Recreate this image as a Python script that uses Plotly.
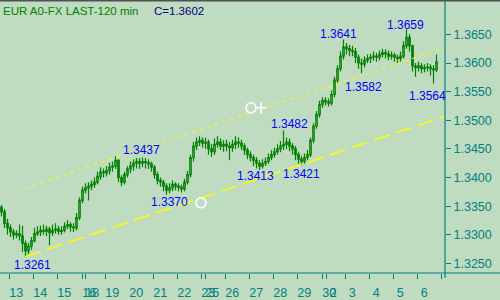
import plotly.graph_objects as go

# ---------------- data ----------------
opens = [1.3348,1.3340,1.3320,1.3312,1.3305,1.3300,1.3302,1.3298,1.3285,1.3272,
 1.3280,1.3290,1.3302,1.3305,1.3308,1.3306,1.3310,1.3304,1.3308,1.3310,
 1.3306,1.3308,1.3315,1.3318,1.3314,1.3312,1.3330,1.3360,1.3378,1.3382,
 1.3385,1.3388,1.3392,1.3402,1.3410,1.3408,1.3412,1.3418,1.3420,1.3430,
 1.3400,1.3392,1.3405,1.3415,1.3420,1.3425,1.3428,1.3425,1.3428,1.3426,
 1.3424,1.3418,1.3405,1.3395,1.3392,1.3385,1.3378,1.3382,1.3388,1.3385,
 1.3383,1.3380,1.3392,1.3405,1.3435,1.3455,1.3462,1.3465,1.3460,1.3462,
 1.3450,1.3445,1.3458,1.3462,1.3455,1.3458,1.3455,1.3452,1.3458,1.3462,
 1.3460,1.3455,1.3448,1.3440,1.3435,1.3430,1.3425,1.3420,1.3425,1.3428,
 1.3435,1.3440,1.3445,1.3450,1.3455,1.3458,1.3462,1.3455,1.3450,1.3440,
 1.3432,1.3428,1.3435,1.3440,1.3465,1.3490,1.3510,1.3528,1.3535,1.3532,
 1.3530,1.3545,1.3570,1.3590,1.3612,1.3628,1.3625,1.3622,1.3620,1.3610,
 1.3600,1.3598,1.3605,1.3608,1.3610,1.3612,1.3610,1.3615,1.3618,1.3616,
 1.3612,1.3614,1.3610,1.3608,1.3612,1.3630,1.3645,1.3630,1.3595,1.3592,
 1.3595,1.3590,1.3592,1.3593,1.3590,1.3588]
closes = [1.3340,1.3320,1.3312,1.3305,1.3300,1.3302,1.3298,1.3285,1.3272,1.3280,
 1.3290,1.3302,1.3305,1.3308,1.3306,1.3310,1.3304,1.3308,1.3310,1.3306,
 1.3308,1.3315,1.3318,1.3314,1.3312,1.3330,1.3360,1.3378,1.3382,1.3385,
 1.3388,1.3392,1.3402,1.3410,1.3408,1.3412,1.3418,1.3420,1.3430,1.3400,
 1.3392,1.3405,1.3415,1.3420,1.3425,1.3428,1.3425,1.3428,1.3426,1.3424,
 1.3418,1.3405,1.3395,1.3392,1.3385,1.3378,1.3382,1.3388,1.3385,1.3383,
 1.3380,1.3392,1.3405,1.3435,1.3455,1.3462,1.3465,1.3460,1.3462,1.3450,
 1.3445,1.3458,1.3462,1.3455,1.3458,1.3455,1.3452,1.3458,1.3462,1.3460,
 1.3455,1.3448,1.3440,1.3435,1.3430,1.3425,1.3420,1.3425,1.3428,1.3435,
 1.3440,1.3445,1.3450,1.3455,1.3458,1.3462,1.3455,1.3450,1.3440,1.3432,
 1.3428,1.3435,1.3440,1.3465,1.3490,1.3510,1.3528,1.3535,1.3532,1.3530,
 1.3545,1.3570,1.3590,1.3612,1.3628,1.3625,1.3622,1.3620,1.3610,1.3600,
 1.3598,1.3605,1.3608,1.3610,1.3612,1.3610,1.3615,1.3618,1.3616,1.3612,
 1.3614,1.3610,1.3608,1.3612,1.3630,1.3645,1.3630,1.3595,1.3592,1.3595,
 1.3590,1.3592,1.3593,1.3590,1.3588,1.3602]
highs = [1.3352,1.3345,1.3328,1.3318,1.3310,1.3308,1.3318,1.3316,1.3290,1.3286,
 1.3296,1.3312,1.3315,1.3316,1.3318,1.3316,1.3314,1.3318,1.3320,1.3316,
 1.3315,1.3322,1.3326,1.3322,1.3320,1.3338,1.3365,1.3384,1.3390,1.3392,
 1.3395,1.3400,1.3410,1.3418,1.3416,1.3420,1.3426,1.3428,1.3437,1.3432,
 1.3404,1.3410,1.3420,1.3428,1.3432,1.3434,1.3434,1.3435,1.3434,1.3432,
 1.3428,1.3422,1.3410,1.3400,1.3396,1.3390,1.3390,1.3395,1.3392,1.3390,
 1.3388,1.3398,1.3412,1.3440,1.3462,1.3470,1.3472,1.3470,1.3470,1.3466,
 1.3458,1.3468,1.3472,1.3468,1.3465,1.3466,1.3462,1.3466,1.3472,1.3470,
 1.3466,1.3460,1.3452,1.3446,1.3440,1.3436,1.3430,1.3432,1.3435,1.3442,
 1.3448,1.3452,1.3458,1.3464,1.3482,1.3470,1.3468,1.3460,1.3455,1.3445,
 1.3438,1.3442,1.3448,1.3470,1.3495,1.3516,1.3534,1.3540,1.3540,1.3538,
 1.3552,1.3576,1.3596,1.3620,1.3641,1.3635,1.3632,1.3630,1.3626,1.3615,
 1.3608,1.3612,1.3615,1.3616,1.3620,1.3618,1.3622,1.3625,1.3624,1.3622,
 1.3620,1.3618,1.3615,1.3620,1.3638,1.3659,1.3650,1.3632,1.3600,1.3602,
 1.3600,1.3598,1.3600,1.3598,1.3596,1.3615]
lows = [1.3332,1.3312,1.3300,1.3296,1.3292,1.3294,1.3290,1.3270,1.3261,1.3266,
 1.3274,1.3286,1.3298,1.3298,1.3300,1.3298,1.3282,1.3298,1.3302,1.3300,
 1.3300,1.3304,1.3310,1.3306,1.3305,1.3308,1.3326,1.3355,1.3372,1.3360,
 1.3378,1.3382,1.3388,1.3396,1.3400,1.3402,1.3405,1.3410,1.3415,1.3392,
 1.3385,1.3388,1.3400,1.3408,1.3412,1.3416,1.3415,1.3418,1.3416,1.3415,
 1.3410,1.3398,1.3388,1.3384,1.3376,1.3370,1.3372,1.3376,1.3378,1.3376,
 1.3374,1.3376,1.3388,1.3400,1.3428,1.3448,1.3455,1.3452,1.3450,1.3440,
 1.3436,1.3440,1.3452,1.3448,1.3445,1.3446,1.3430,1.3445,1.3450,1.3452,
 1.3448,1.3440,1.3432,1.3428,1.3420,1.3416,1.3413,1.3416,1.3420,1.3424,
 1.3430,1.3435,1.3440,1.3444,1.3448,1.3450,1.3446,1.3440,1.3430,1.3424,
 1.3421,1.3424,1.3430,1.3436,1.3460,1.3485,1.3505,1.3522,1.3526,1.3524,
 1.3526,1.3540,1.3565,1.3585,1.3606,1.3615,1.3612,1.3612,1.3600,1.3590,
 1.3582,1.3592,1.3600,1.3600,1.3604,1.3602,1.3605,1.3610,1.3608,1.3605,
 1.3606,1.3602,1.3600,1.3602,1.3608,1.3625,1.3620,1.3585,1.3576,1.3585,
 1.3582,1.3584,1.3585,1.3578,1.3564,1.3584]
bars = list(range(len(closes)))

# day ticks (fractional bar positions) and labels
tick_pos = [2.6, 10.6, 18.6, 26.93, 27.93, 34.6, 42.6, 50.6, 58.6, 66.6, 67.93,
            74.6, 82.6, 90.6, 98.6, 106.93, 108.27, 114.6, 122.6, 130.6, 138.6, 146.6]
tick_text = ["13", "14", "15", "16", "18", "19", "20", "21", "22", "23", "25",
             "26", "27", "28", "29", "30", "2", "3", "4", "5", "6", ""]
price_ticks = [1.3250, 1.3300, 1.3350, 1.3400, 1.3450, 1.3500, 1.3550, 1.3600, 1.3650]

# trend channel (bar position, price)
channel_x = [7.83, 147.83]
channel_upper = [1.33817, 1.36267]
channel_lower = [1.32617, 1.35067]
# channel handles
handle_x = [66.5, 83.17]
handle_y = [1.33558, 1.35217]
plus_x = [86.5]
plus_y = [1.35217]

# labelled extremes: bar index and kind
extreme_bars = [8, 38, 55, 86, 94, 100, 114, 120, 135, 144]
extreme_kind = ["low", "high", "low", "low", "high", "low", "high", "low", "high", "low"]

title_text = "EUR A0-FX LAST-120 min"

# ---------------- style ----------------
BG = "#C0DCC0"
TEAL = "#008080"
GREEN = "#008000"
FONT = "Liberation Sans"
W, H = 500, 300
ML, MR, MT, MB = 0, 55, 0, 14
PW, PH = W - ML - MR, H - MT - MB

fig = go.Figure()
fig.add_trace(go.Candlestick(
    x=bars, open=opens, high=highs, low=lows, close=closes,
    increasing=dict(line=dict(color=GREEN, width=1.2), fillcolor=BG),
    decreasing=dict(line=dict(color=GREEN, width=1.2), fillcolor=GREEN),
    whiskerwidth=0, showlegend=False, hoverinfo="skip"))

fig.add_trace(go.Scatter(x=channel_x, y=channel_upper, mode="lines",
                         line=dict(color="#FFFF00", width=1, dash="4px,4px"),
                         showlegend=False, hoverinfo="skip"))
fig.add_trace(go.Scatter(x=channel_x, y=channel_lower, mode="lines",
                         line=dict(color="#FFFF00", width=1.5, dash="16px,7px"),
                         showlegend=False, hoverinfo="skip"))
fig.add_trace(go.Scatter(x=handle_x, y=handle_y, mode="markers",
                         marker=dict(symbol="circle-open", size=10,
                                     line=dict(color="white", width=1.5), color="white"),
                         showlegend=False, hoverinfo="skip"))
fig.add_trace(go.Scatter(x=plus_x, y=plus_y, mode="markers",
                         marker=dict(symbol="cross-thin-open", size=8,
                                     line=dict(color="white", width=1.5), color="white"),
                         showlegend=False, hoverinfo="skip"))

# extreme labels
shifts = [(6.5, -7.6), (25.5, 6.8), (2.5, -7), (-4.5, -5.8), (5.5, 6.2),
          (-0.5, -8.6), (-5.5, 6), (1.5, -14), (-1.5, 4.6), (-6.5, -12.4)]
annotations = []
for b, kind, (dx, dy) in zip(extreme_bars, extreme_kind, shifts):
    val = highs[b] if kind == "high" else lows[b]
    annotations.append(dict(x=b, y=val, xref="x", yref="y", text=f"{val:.4f}",
                            showarrow=False, xshift=dx, yshift=dy,
                            xanchor="center", yanchor="middle",
                            font=dict(family=FONT, size=12, color="#0000FF")))

annotations.append(dict(x=1 / PW, y=1 - 12 / PH, xref="paper", yref="paper",
                        text=title_text, showarrow=False, xanchor="left", yanchor="middle",
                        font=dict(family=FONT, size=11.5, color=GREEN)))
annotations.append(dict(x=152 / PW, y=1 - 12 / PH, xref="paper", yref="paper",
                        text=f"C={closes[-1]:.4f}", showarrow=False, xanchor="left",
                        yanchor="middle",
                        font=dict(family=FONT, size=11.5, color="#000080")))

shapes = [
    dict(type="line", xref="paper", yref="paper", x0=0, x1=W / PW, y0=1 - 0.5 / PH,
         y1=1 - 0.5 / PH, line=dict(color="#505050", width=2)),
    dict(type="line", xref="paper", yref="paper", x0=0, x1=W / PW, y0=0, y1=0,
         line=dict(color=TEAL, width=1.2)),
    dict(type="line", xref="paper", yref="paper", x0=1, x1=1, y0=-5 / PH, y1=1,
         line=dict(color=TEAL, width=1.2)),
]

fig.update_layout(
    width=W, height=H, margin=dict(l=ML, r=MR, t=MT, b=MB, pad=0),
    paper_bgcolor=BG, plot_bgcolor=BG,
    annotations=annotations, shapes=shapes,
    font=dict(family=FONT),
    xaxis=dict(range=[-0.5, PW / 3 - 0.5], rangeslider=dict(visible=False),
               tickvals=tick_pos, ticktext=tick_text, ticks="outside", ticklen=5,
               tickcolor=TEAL, tickwidth=1, showgrid=False, zeroline=False,
               showline=False, ticklabelshift=7, tickangle=0, ticklabelstandoff=3,
               tickfont=dict(family=FONT, size=12.5, color=TEAL)),
    yaxis=dict(range=[1.3650 - 250 / 6000, 1.3710], side="right",
               tickvals=price_ticks, ticktext=[f"{v:.4f}" for v in price_ticks],
               ticks="outside", ticklen=5, tickcolor=TEAL, tickwidth=1,
               showgrid=False, zeroline=False, showline=False,
               tickfont=dict(family=FONT, size=12.5, color=TEAL)),
)

fig.write_html("out.html")
